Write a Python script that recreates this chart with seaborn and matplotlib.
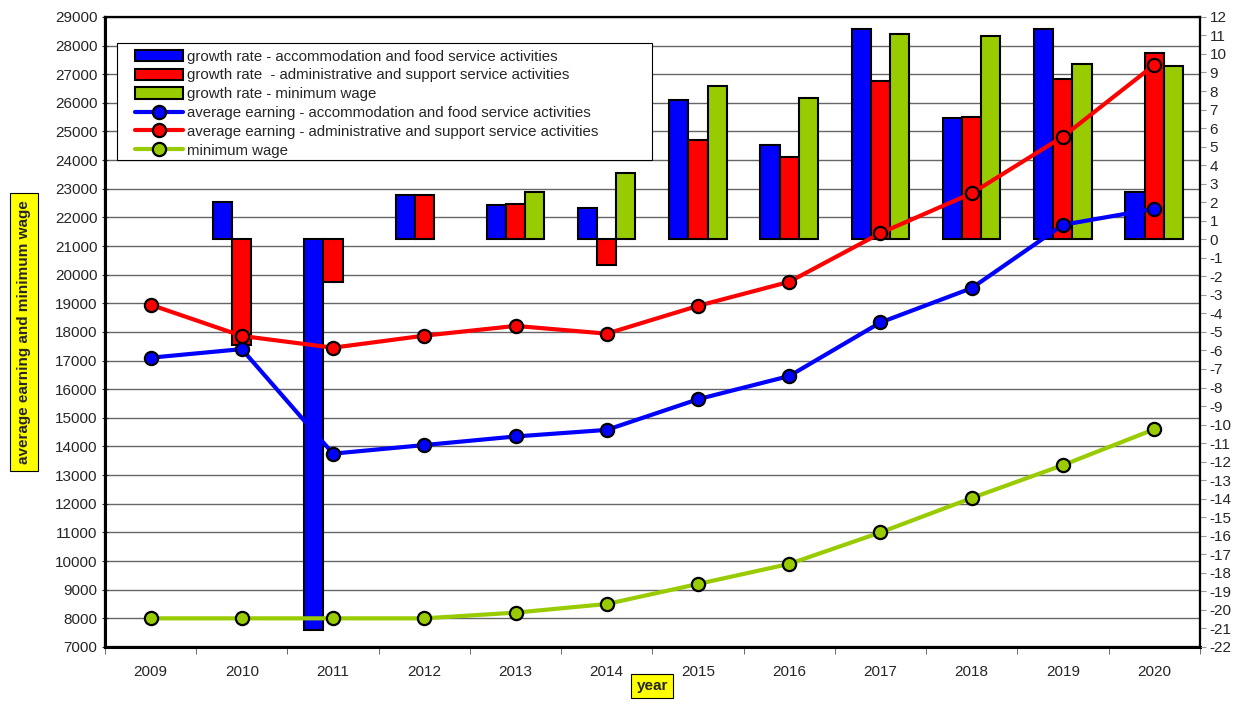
import numpy as np
import pandas as pd
import matplotlib
matplotlib.use('Agg')
import matplotlib.pyplot as plt
import seaborn as sns
from matplotlib.patches import Rectangle

years = ['2009', '2010', '2011', '2012', '2013', '2014', '2015', '2016', '2017', '2018', '2019', '2020']

# growth rates (%), right axis
growth_accom = [np.nan, 2.0, -21.1, 2.4, 1.85, 1.7, 7.5, 5.1, 11.35, 6.55, 11.35, 2.55]
growth_admin = [np.nan, -5.7, -2.3, 2.4, 1.9, -1.4, 5.35, 4.45, 8.55, 6.6, 8.65, 10.05]
growth_minwage = [np.nan, np.nan, np.nan, np.nan, 2.55, 3.6, 8.25, 7.6, 11.1, 10.95, 9.45, 9.35]

# average earnings and minimum wage, left axis
earn_accom = [17100, 17400, 13750, 14050, 14350, 14580, 15650, 16460, 18330, 19530, 21740, 22300]
earn_admin = [18950, 17860, 17450, 17870, 18210, 17940, 18910, 19750, 21450, 22840, 24820, 27320]
min_wage = [8000, 8000, 8000, 8000, 8200, 8500, 9200, 9900, 11000, 12200, 13350, 14600]

bar_names = ['growth rate - accommodation and food service activities',
             'growth rate  - administrative and support service activities',
             'growth rate - minimum wage']
line_names = ['average earning - accommodation and food service activities',
              'average earning - administrative and support service activities',
              'minimum wage']
colors = ['#0000FF', '#FF0000', '#99CC00']

bars_df = pd.DataFrame({
    'year': years * 3,
    'series': np.repeat(bar_names, len(years)),
    'value': growth_accom + growth_admin + growth_minwage,
})
lines_df = pd.DataFrame({
    'pos': list(range(len(years))) * 3,
    'series': np.repeat(line_names, len(years)),
    'value': earn_accom + earn_admin + min_wage,
})

sns.set_style('white')
plt.rcParams['font.family'] = ['Liberation Sans', 'DejaVu Sans']
plt.rcParams['axes.unicode_minus'] = False

fig = plt.figure(figsize=(12.42, 7.04), dpi=100)
ax = fig.add_axes([0.0845, 0.081, 0.8815, 0.895])
ax2 = ax.twinx()   # bars, right scale
ax3 = ax.twinx()   # lines, left scale (drawn on top)

# grid on the bottom axes so the bars cover it
ax.set_ylim(7000, 29000)
ax.set_yticks(range(7000, 29001, 1000))
ax.grid(axis='y', color='#666666', linewidth=1)
ax.tick_params(axis='y', labelsize=11, length=5, direction='inout', left=True, color='#333333', pad=3)

sns.barplot(data=bars_df, x='year', y='value', hue='series', order=years, hue_order=bar_names,
            palette=colors, width=0.63, edgecolor='black', linewidth=1.5, saturation=1,
            ax=ax2, legend=True)
ax2.set_ylim(-22, 12)
ax2.set_yticks(range(-22, 13))
ax2.set_ylabel('')
ax2.tick_params(axis='y', labelsize=11, length=4, direction='out', right=True, color='#999999', pad=3)

sns.lineplot(data=lines_df, x='pos', y='value', hue='series', hue_order=line_names,
             palette=colors, linewidth=3, marker='o', markersize=9.5, markeredgecolor='black',
             markeredgewidth=1.6, ax=ax3, legend=True)
ax3.set_ylim(7000, 29000)
ax3.set_yticks([])
ax3.set_ylabel('')

for a in (ax, ax2, ax3):
    a.set_xlim(-0.5, len(years) - 0.5)
    for s in a.spines.values():
        s.set_color('black')
        s.set_linewidth(1.5)
ax.spines['left'].set_linewidth(2.2)
ax.spines['bottom'].set_linewidth(2.2)

ax.set_xticks(range(len(years)))
ax.set_xticklabels(years)
ax.set_xticks(np.arange(-0.5, len(years), 1), minor=True)
ax.tick_params(axis='x', which='major', length=0, labelsize=11, pad=13)
ax.tick_params(axis='x', which='minor', length=5, bottom=True, color='#555555')

ax.set_xlabel('year', fontsize=11, fontweight='bold', labelpad=0,
              bbox=dict(facecolor='#FFFF00', edgecolor='black', boxstyle='square,pad=0.35', linewidth=0.8))
ax.set_ylabel('average earning and minimum wage', fontsize=11, fontweight='bold', labelpad=17,
              bbox=dict(facecolor='#FFFF00', edgecolor='black', boxstyle='square,pad=0.45', linewidth=0.8))

# combined legend, frame drawn separately (Excel-style wide box)
h2, l2 = ax2.get_legend_handles_labels()
h3, l3 = ax3.get_legend_handles_labels()
ax2.get_legend().remove()
ax3.get_legend().remove()
ax3.add_patch(Rectangle((0.011, 0.773), 0.489, 0.186, transform=ax3.transAxes,
                        facecolor='white', edgecolor='black', linewidth=0.8, zorder=4))
leg = ax3.legend(h2 + h3, l2 + l3, loc='upper left', bbox_to_anchor=(0.0274, 0.948),
                 fontsize=10.8, frameon=False, handlelength=3.2, handleheight=0.8,
                 handletextpad=0.25, labelspacing=0.32, borderpad=0, borderaxespad=0)
leg.set_zorder(5)

fig.savefig('out.png', dpi=100)
